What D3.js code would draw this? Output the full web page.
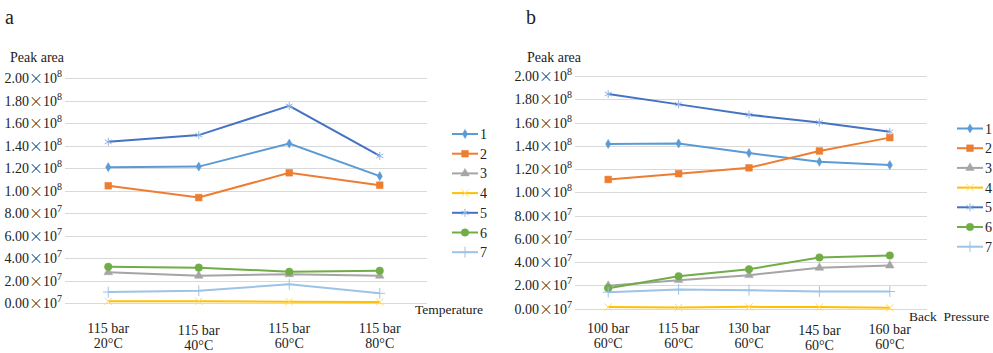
<!DOCTYPE html>
<meta charset="utf-8">
<title>peak-area</title>
<style>
body { margin: 0; background: #fff; }
svg text { font-family: 'Liberation Serif', 'DejaVu Serif', serif; fill: #222; }
</style>
<body>
<script src="https://cdn.jsdelivr.net/npm/d3@7/dist/d3.min.js"></script>
<script>
var width = 993, height = 353;

// panel a: temperature series
var catsA = [["115 bar", "20\u00b0C"], ["115 bar", "40\u00b0C"], ["115 bar", "60\u00b0C"], ["115 bar", "80\u00b0C"]];
var seriesA = [
  [121, 121.5, 142, 113],
  [104.5, 94, 116, 105],
  [27.6, 24.5, 25.8, 24.5],
  [1.8, 1.8, 1.4, 1.2],
  [143.5, 149.5, 175.5, 131],
  [32.5, 31.7, 28.1, 29],
  [10, 11.2, 16.9, 8.9]
];
// panel b: back pressure series
var catsB = [["100 bar", "60\u00b0C"], ["115 bar", "60\u00b0C"], ["130 bar", "60\u00b0C"], ["145 bar", "60\u00b0C"], ["160 bar", "60\u00b0C"]];
var seriesB = [
  [141.5, 142, 133.7, 126.2, 123.4],
  [111, 116, 121, 135.5, 147],
  [19.5, 24.4, 28.7, 35, 37],
  [1.2, 0.8, 1.4, 1.2, 0.6],
  [184.5, 175.6, 166.7, 160, 152],
  [17.5, 27.8, 33.8, 43.9, 45.6],
  [14, 16.4, 15.8, 14.6, 14.6]
];
// values in units of 1e6
var ticks = [0, 20, 40, 60, 80, 100, 120, 140, 160, 180, 200];
var tickLabels = [["0.00", "7"], ["2.00", "7"], ["4.00", "7"], ["6.00", "7"], ["8.00", "7"],
  ["1.00", "8"], ["1.20", "8"], ["1.40", "8"], ["1.60", "8"], ["1.80", "8"], ["2.00", "8"]];
var names = ["1", "2", "3", "4", "5", "6", "7"];
var colors = ["#5b9bd5", "#ed7d31", "#a5a5a5", "#ffc000", "#4472c4", "#70ad47", "#9dc3e6"];
var markerColors = ["#5b9bd5", "#ed7d31", "#a5a5a5", "#ffd966", "#8fb4e3", "#70ad47", "#9dc3e6"];

var svg = d3.select("body").append("svg")
    .attr("width", width)
    .attr("height", height)
    .attr("font-family", "'Liberation Serif', 'DejaVu Serif', serif");

var sym = function(type, size) { return d3.symbol().type(type).size(size)(); };
var markers = [
  { d: sym(d3.symbolDiamond, 24), fill: true },
  { d: sym(d3.symbolSquare, 45), fill: true },
  { d: sym(d3.symbolTriangle, 32), fill: true },
  { d: sym(d3.symbolTimes || d3.symbolCross, 36), fill: false },
  { d: sym(d3.symbolAsterisk || d3.symbolCross, 45), fill: false },
  { d: sym(d3.symbolCircle, 45), fill: true },
  { d: sym(d3.symbolPlus || d3.symbolCross, 40), fill: false }
];

function drawMarker(g, i, x, y) {
  var m = markers[i];
  g.append("path")
      .attr("d", m.d)
      .attr("transform", "translate(" + x + "," + y + ")")
      .attr("fill", m.fill ? markerColors[i] : "none")
      .attr("stroke", markerColors[i])
      .attr("stroke-width", m.fill ? 0.5 : 1);
}

function panel(opt) {
  var g = svg.append("g");
  var x = d3.scaleBand().domain(d3.range(opt.cats.length)).range([opt.x0, opt.x1]);
  var y = d3.scaleLinear().domain([0, 200]).range([opt.y0, opt.y1]);

  g.append("text").attr("x", opt.titleX).attr("y", 24)
      .attr("font-size", 20).text(opt.title);
  g.append("text").attr("x", opt.peakX).attr("y", 62)
      .attr("font-size", 14).text("Peak area");

  // gridlines
  g.selectAll("line.grid").data(ticks).enter().append("line")
      .attr("x1", opt.x0).attr("x2", opt.x1)
      .attr("y1", function(d) { return Math.round(y(d)) + 0.5; })
      .attr("y2", function(d) { return Math.round(y(d)) + 0.5; })
      .attr("stroke", "#d9d9d9").attr("stroke-width", 1);

  // y tick labels, with a wide full-width multiplication sign
  var tl = g.selectAll("text.tick").data(ticks).enter().append("text")
      .attr("x", opt.x0 - 3)
      .attr("y", function(d) { return y(d) + 5; })
      .attr("text-anchor", "end")
      .attr("font-size", 14);
  tl.append("tspan").text(function(d, i) { return tickLabels[i][0]; });
  tl.append("tspan").attr("font-family", "'Noto Sans CJK SC', sans-serif").attr("font-weight", 300)
      .text("\u00d7");
  tl.append("tspan").text("10");
  tl.append("tspan").attr("dy", -6).attr("font-size", 10)
      .text(function(d, i) { return tickLabels[i][1]; });

  // x labels
  opt.cats.forEach(function(c, i) {
    var cx = x(i) + x.bandwidth() / 2 - 2;
    var dy = opt.catDy[i];
    g.append("text").attr("x", cx).attr("y", 333 + dy).attr("text-anchor", "middle")
        .attr("font-size", 14).text(c[0]);
    g.append("text").attr("x", cx).attr("y", 348 + dy).attr("text-anchor", "middle")
        .attr("font-size", 14).text(c[1]);
  });
  g.append("text").attr("x", opt.axisX).attr("y", opt.axisY)
      .attr("font-size", 13.5).attr("xml:space", "preserve").text(opt.axisTitle);

  // lines
  var line = d3.line()
      .x(function(d, i) { return x(i) + x.bandwidth() / 2 - 2; })
      .y(function(d) { return y(d); });
  opt.series.forEach(function(s, k) {
    g.append("path").datum(s)
        .attr("d", line)
        .attr("fill", "none")
        .attr("stroke", colors[k])
        .attr("stroke-width", 2);
  });
  opt.series.forEach(function(s, k) {
    s.forEach(function(v, i) {
      drawMarker(g, k, x(i) + x.bandwidth() / 2 - 2, y(v));
    });
  });

  // legend
  names.forEach(function(n, k) {
    var ly = opt.legY + k * 19.7;
    g.append("line").attr("x1", opt.legX).attr("x2", opt.legX + 26)
        .attr("y1", ly).attr("y2", ly)
        .attr("stroke", colors[k]).attr("stroke-width", 2);
    drawMarker(g, k, opt.legX + 13, ly);
    g.append("text").attr("x", opt.legX + 28).attr("y", ly + 5)
        .attr("font-size", 14).text(n);
  });
}

panel({
  title: "a", titleX: 5, peakX: 10,
  cats: catsA, series: seriesA, catDy: [0, 1.5, 0, 0],
  x0: 65, x1: 427, y0: 303.3, y1: 78.3,
  axisTitle: "Temperature", axisX: 415, axisY: 314,
  legX: 452, legY: 134
});
panel({
  title: "b", titleX: 526, peakX: 527,
  cats: catsB, series: seriesB, catDy: [0, 0, 0, 1.5, 1],
  x0: 575, x1: 927, y0: 308.5, y1: 76,
  axisTitle: "Back  Pressure", axisX: 909, axisY: 321,
  legX: 957, legY: 128.5
});
</script>
